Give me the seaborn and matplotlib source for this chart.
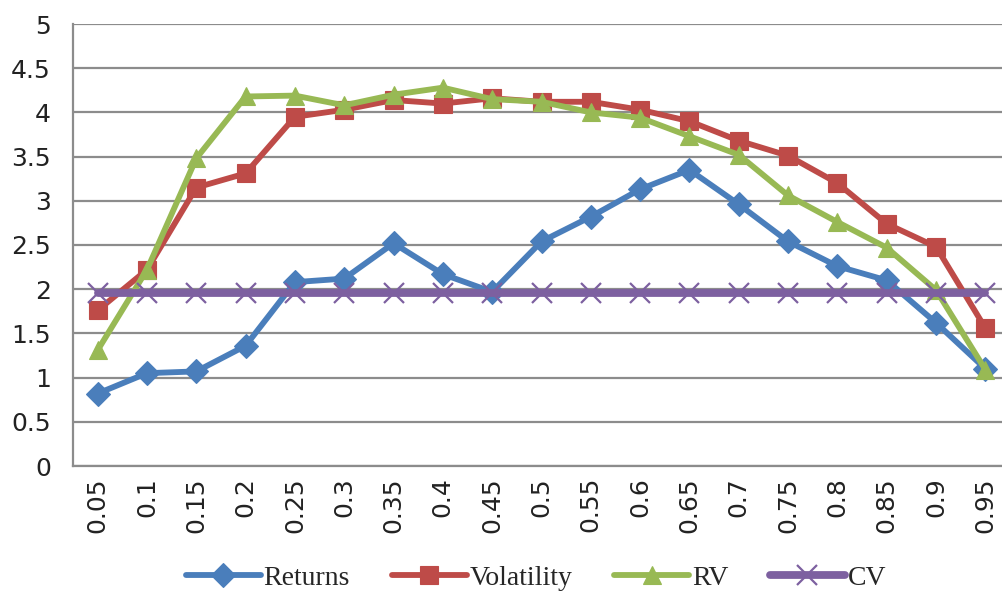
import matplotlib
matplotlib.use("Agg")
import matplotlib.pyplot as plt
import seaborn as sns
import pandas as pd
from matplotlib.ticker import FixedLocator, FormatStrFormatter

quantiles = ["0.05", "0.1", "0.15", "0.2", "0.25", "0.3", "0.35", "0.4", "0.45", "0.5",
             "0.55", "0.6", "0.65", "0.7", "0.75", "0.8", "0.85", "0.9", "0.95"]
returns = [0.82, 1.05, 1.07, 1.36, 2.08, 2.12, 2.52, 2.17, 1.97, 2.54,
           2.82, 3.13, 3.35, 2.96, 2.54, 2.26, 2.10, 1.62, 1.10]
volatility = [1.76, 2.22, 3.15, 3.31, 3.95, 4.03, 4.14, 4.10, 4.16, 4.12,
              4.12, 4.03, 3.90, 3.68, 3.51, 3.20, 2.74, 2.48, 1.56]
rv = [1.31, 2.22, 3.48, 4.18, 4.19, 4.08, 4.20, 4.28, 4.15, 4.12,
      4.00, 3.94, 3.73, 3.52, 3.06, 2.76, 2.47, 1.99, 1.09]
cv = [1.96] * 19

series_names = ["Returns", "Volatility", "RV", "CV"]
colors = {"Returns": "#4A7EBB", "Volatility": "#BE4B48", "RV": "#98B954", "CV": "#7D60A0"}
markers = {"Returns": "D", "Volatility": "s", "RV": "^", "CV": "x"}
msizes = {"Returns": 12, "Volatility": 13, "RV": 13, "CV": 14}
lwidths = {"Returns": 4.2, "Volatility": 4.2, "RV": 4.2, "CV": 5.6}

df = pd.concat([
    pd.DataFrame({"quantile": quantiles, "value": vals, "series": name})
    for name, vals in zip(series_names, [returns, volatility, rv, cv])
], ignore_index=True)

sns.set_style("white")
plt.rcParams["font.family"] = ["DejaVu Sans"]

fig = plt.figure(figsize=(10.02, 5.96), dpi=100)
ax = fig.add_axes([73 / 1002, 1 - 466 / 596, (1010 - 73) / 1002, (466 - 24) / 596])

for name in series_names:
    sub = df[df["series"] == name]
    sns.lineplot(data=sub, x="quantile", y="value", ax=ax, color=colors[name],
                 marker=markers[name], linewidth=lwidths[name],
                 markersize=msizes[name],
                 markeredgewidth=1.6 if name == "CV" else 0.8,
                 markeredgecolor=colors[name], label=name, sort=False, zorder=3)

ax.set_ylim(0, 5)
ax.set_xlim(-0.5, len(quantiles) - 0.5)
ax.yaxis.set_major_locator(FixedLocator([i * 0.5 for i in range(11)]))
ax.yaxis.set_major_formatter(FormatStrFormatter("%g"))
ax.grid(axis="y", color="#8C8C8C", linewidth=1.6, zorder=0)
ax.set_axisbelow(True)
for s in ["top", "right"]:
    ax.spines[s].set_visible(False)
for s in ["left", "bottom"]:
    ax.spines[s].set_color("#8C8C8C")
    ax.spines[s].set_linewidth(1.6)

ax.set_xlabel("")
ax.set_ylabel("")
ax.set_xticks(range(len(quantiles)))
ax.set_xticklabels(quantiles, rotation=90)
ax.set_xticks([i - 0.5 for i in range(len(quantiles) + 1)], minor=True)
ax.tick_params(axis="x", which="major", length=0, labelsize=18, pad=8, labelcolor="#222222")
ax.tick_params(axis="x", which="minor", length=7, width=1.6, color="#8C8C8C", direction="out")
ax.tick_params(axis="y", length=8, width=1.6, color="#8C8C8C", labelsize=18, pad=8,
               labelcolor="#222222", direction="out")

handles, labels = ax.get_legend_handles_labels()
ax.legend(handles, labels, loc="center", bbox_to_anchor=(536 / 1002, 1 - 578 / 596),
          bbox_transform=fig.transFigure, ncol=4, frameon=False, handlelength=2.7,
          handletextpad=0.1, columnspacing=1.5,
          prop={"family": "Liberation Serif", "size": 20})

fig.savefig("out.png", dpi=100)
